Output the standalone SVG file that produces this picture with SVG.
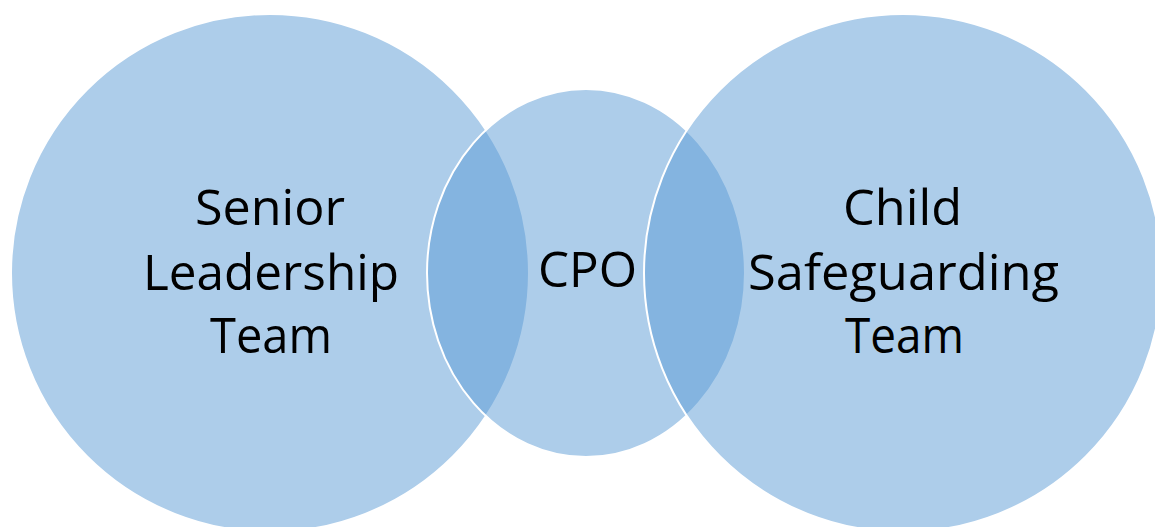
<svg xmlns="http://www.w3.org/2000/svg" width="1155" height="527" viewBox="0 0 1155 527">
<style>
.shape{fill:#5B9BD5;fill-opacity:0.5;stroke:#FFFFFF;stroke-width:2}
.lbl{font-family:"Open Sans","Noto Sans","Liberation Sans",sans-serif;font-size:49px;fill:#000000;text-anchor:middle}
</style>
<rect width="1155" height="527" fill="#FFFFFF"/>
<g id="connectors"></g>
<g id="node-slt">
<circle class="shape" cx="270" cy="273" r="259"/>
<text class="lbl" x="270" y="225" textLength="150" lengthAdjust="spacingAndGlyphs">Senior</text>
<text class="lbl" x="271" y="290" textLength="256" lengthAdjust="spacingAndGlyphs">Leadership</text>
<text class="lbl" x="271" y="353" textLength="122" lengthAdjust="spacingAndGlyphs">Team</text>
</g>
<g id="node-cpo">
<ellipse class="shape" cx="586" cy="273" rx="159" ry="184"/>
<text class="lbl" x="587.5" y="287" textLength="99" lengthAdjust="spacingAndGlyphs">CPO</text>
</g>
<g id="node-cst">
<circle class="shape" cx="903" cy="273" r="259"/>
<text class="lbl" x="902.5" y="225" textLength="119" lengthAdjust="spacingAndGlyphs">Child</text>
<text class="lbl" x="903.5" y="290" textLength="311" lengthAdjust="spacingAndGlyphs">Safeguarding</text>
<text class="lbl" x="904.5" y="353" textLength="119" lengthAdjust="spacingAndGlyphs">Team</text>
</g>
</svg>
